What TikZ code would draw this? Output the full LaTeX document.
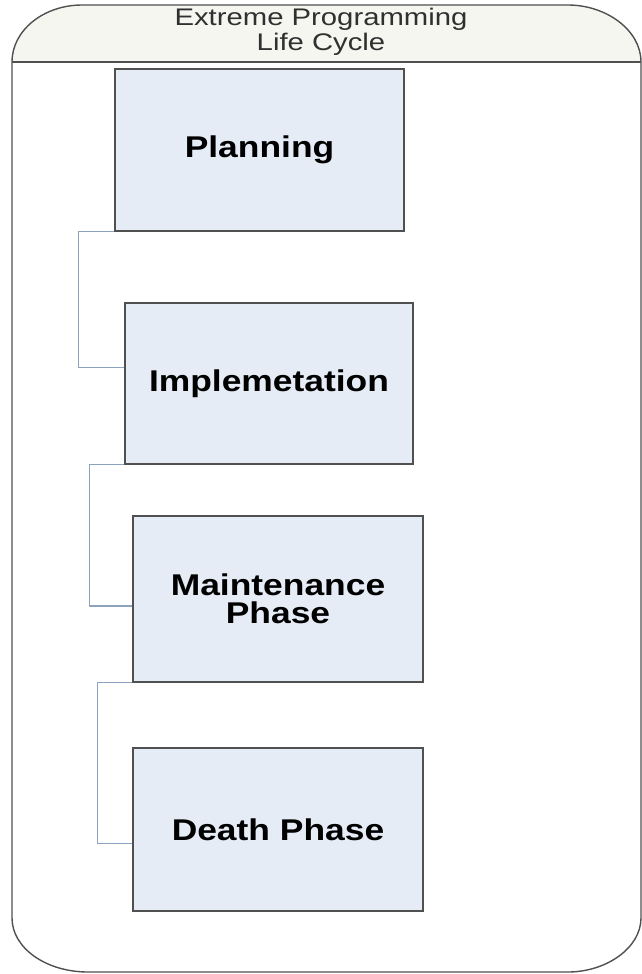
\documentclass[tikz,border=0pt]{standalone}
\usepackage{fontspec}
\setmainfont{Liberation Sans}
\newfontfamily\titlefont[FakeStretch=1.22]{Liberation Sans}
\newfontfamily\phasefont[FakeStretch=1.18]{Liberation Sans}
\definecolor{boxfill}{HTML}{E6ECF6}
\definecolor{boxline}{HTML}{505050}
\definecolor{headfill}{HTML}{F6F6F1}
\definecolor{conncol}{HTML}{8CA2BE}
\definecolor{titlecol}{HTML}{303030}
\begin{document}
\begin{tikzpicture}[x=1pt,y=-1pt,
  phase/.style={draw=boxline,line width=1.6pt,fill=boxfill,inner sep=0pt,
    font=\phasefont\fontsize{30}{28}\selectfont\bfseries,align=center,text=black},
  conn/.style={draw=conncol,line width=1.1pt},
  frame/.style={draw=boxline,line width=1.4pt}]
\useasboundingbox (0,0) rectangle (642,974);
% container
\fill[headfill] (12,62) .. controls (12,30) and (44,5) .. (82,5) -- (568,5)
   .. controls (606,5) and (641,30) .. (641,62) -- cycle;
\draw[frame] (12,62) .. controls (12,30) and (44,5) .. (82,5) -- (568,5)
   .. controls (606,5) and (641,30) .. (641,62)
   -- (641,918) .. controls (641,948) and (606,972) .. (568,972)
   -- (88,972) .. controls (46,972) and (12,948) .. (12,918) -- cycle;
\draw[frame] (12,62) -- (641,62);
\node[font=\titlefont\fontsize{24}{25}\selectfont,text=titlecol,align=center] (title) at (321,32)
  {Extreme Programming\\Life Cycle};
% phases
\node[phase,minimum width=289pt,minimum height=162pt] (b1) at (259.5,150) {\raisebox{-3pt}{Planning}};
\node[phase,minimum width=288pt,minimum height=161pt] (b2) at (269,383.5) {\raisebox{-2pt}{Implemetation}};
\node[phase,minimum width=290pt,minimum height=166pt] (b3) at (278,599) {Maintenance\\Phase};
\node[phase,minimum width=290pt,minimum height=163pt] (b4) at (278,829.5) {Death Phase};
% connectors
\draw[conn] (b1.south west) -- ++(-36,0) |- ([yshift=16pt]b2.west);
\draw[conn] (b2.south west) -- ++(-35,0) |- ([yshift=-7pt]b3.west);
\draw[conn] (b3.south west) -- ++(-35,0) |- ([yshift=-14pt]b4.west);
\end{tikzpicture}
\end{document}
